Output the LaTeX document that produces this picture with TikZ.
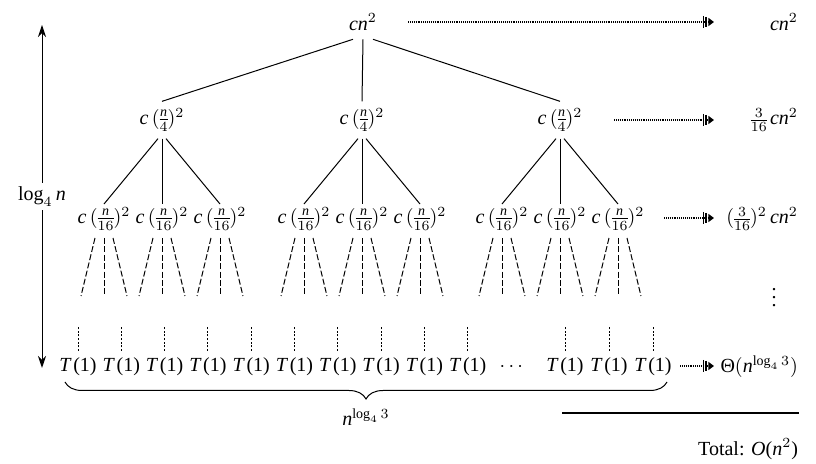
\documentclass[tikz,border=0pt]{standalone}
\usepackage{amsmath}
\usepackage{fontspec}
\setmainfont{Liberation Serif}
\usetikzlibrary{arrows.meta,decorations.pathreplacing}
\newcommand{\vi}[1]{\text{\itshape #1}}
\newcommand{\tone}{{\itshape T}\kern1.4pt(1)}
\begin{document}
\setlength{\nulldelimiterspace}{0pt}%
\begin{tikzpicture}[x=0.5pt,y=-0.5pt,
  every node/.style={font=\fontsize{10}{12}\selectfont},
  small/.style={inner sep=1.5pt},
  treeline/.style={line width=0.5pt},
  fan/.style={line width=0.5pt,dash pattern=on 3pt off 1.2pt},
  leafline/.style={line width=0.5pt,dash pattern=on 1pt off 0.8pt},
  dotarrow/.style={line width=1.3pt,dash pattern=on 0.5pt off 0.45pt,
    -{Bar[width=6pt,line width=0.6pt,sep=0.8pt]Bar[width=5pt,line width=0.7pt,sep=0.8pt]Triangle[length=2.8pt,width=4pt]}},
  rlabel/.style={anchor=east}]
\useasboundingbox (0,0) rectangle (816,464);

% root and level 1
\node (root) at (363,22) {$\vi{cn}^2$};
\node (a) at (162,120) {$\vi{c}\,(\tfrac{\vi{n}}{4})^2$};
\node (b) at (362,120) {$\vi{c}\,(\tfrac{\vi{n}}{4})^2$};
\node (c) at (560,120) {$\vi{c}\,(\tfrac{\vi{n}}{4})^2$};
\draw[treeline] ([xshift=-5pt,yshift=-1pt]root.south) -- (a.north);
\draw[treeline] ([yshift=-1pt]root.south) -- (b.north);
\draw[treeline] ([xshift=5pt,yshift=-1pt]root.south) -- (c.north);

% level 2
\foreach \p/\x in {a/162,b/362,c/560} {
  \node[small] (\p1) at (\x-58,219) {$\vi{c}\,(\tfrac{\vi{n}}{16})^2$};
  \node[small] (\p2) at (\x,219) {$\vi{c}\,(\tfrac{\vi{n}}{16})^2$};
  \node[small] (\p3) at (\x+58,219) {$\vi{c}\,(\tfrac{\vi{n}}{16})^2$};
  \draw[treeline] ([xshift=-2pt]\p.south) -- (\p1.north);
  \draw[treeline] (\p.south) -- (\p2.north);
  \draw[treeline] ([xshift=2pt]\p.south) -- (\p3.north);
  \foreach \q in {1,2,3} {
    \draw[fan] ([xshift=-4.5pt,yshift=-2pt]\p\q.south) -- ++(-14,58);
    \draw[fan] ([yshift=-2pt]\p\q.south) -- ++(0,58);
    \draw[fan] ([xshift=4.5pt,yshift=-2pt]\p\q.south) -- ++(14,58);
  }
}

% leaves
\foreach \i in {0,...,9} {
  \node (t\i) at ({78+43.3*\i},367) {\tone};
  \draw[leafline] (t\i.north) -- ++(0,-25);
}
\node (tdots) at (513,367) {$\cdots$};
\node (t10) at (565,367) {\tone};
\node (t11) at (609,367) {\tone};
\node (t12) at (653,367) {\tone};
\foreach \i in {10,11,12} \draw[leafline] (t\i.north) -- ++(0,-25);

% brace
\coordinate (bl) at (65,382);
\coordinate (br) at (667,382);
\draw[line width=0.5pt,decorate,decoration={brace,mirror,amplitude=8.5pt}] (bl) -- (br);
\node (nlog) at (366,417) {$\vi{n}^{\log_4 3}$};

% height arrow
\coordinate (ht) at (42,25);
\coordinate (hb) at (42,368);
\draw[line width=0.5pt,{Stealth[length=6pt,width=4pt]}-{Stealth[length=6pt,width=4pt]}] (ht) -- node[fill=white,inner sep=2pt] (hl) {$\log_4 \vi{n}$} (hb);

% right column
\node[rlabel] (r0) at (805,22) {$\vi{cn}^2$};
\node[rlabel] (r1) at (805,120) {$\tfrac{3}{16}\,\vi{cn}^2$};
\node[rlabel] (r2) at (805,219) {$(\tfrac{3}{16})^2\,\vi{cn}^2$};
\node (r3) at (774,292) {$\vdots$};
\node[rlabel] (r4) at (805,367) {Θ$(\vi{n}^{\log_4 3})$};

\coordinate (s0) at (408,22);  \coordinate (e0) at (714,22);
\coordinate (s1) at (614,120); \coordinate (e1) at (714,120);
\coordinate (s2) at (664,218); \coordinate (e2) at (714,218);
\coordinate (s4) at (680,366); \coordinate (e4) at (714,366);
\draw[dotarrow] (s0) -- (e0);
\draw[dotarrow] (s1) -- (e1);
\draw[dotarrow] (s2) -- (e2);
\draw[dotarrow] (s4) -- (e4);

% total
\coordinate (hl1) at (562,413);
\coordinate (hl2) at (799,413);
\draw[line width=0.6pt] (hl1) -- (hl2);
\node[rlabel] (total) at (805,449) {Total: {\itshape O}($\vi{n}^2$)};
\end{tikzpicture}
\end{document}
